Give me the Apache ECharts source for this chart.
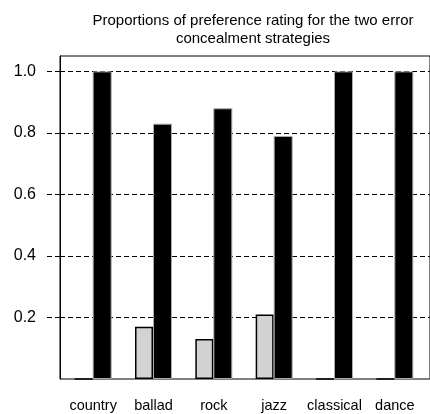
<!DOCTYPE html>
<html><head><meta charset="utf-8">
<script src="https://cdn.jsdelivr.net/npm/echarts@6/dist/echarts.min.js"></script>
<style>html,body{margin:0;padding:0;background:#fff}#c{width:430px;height:414px}</style>
</head><body><div id="c"></div>
<script>
const categories = ['country', 'ballad', 'rock', 'jazz', 'classical', 'dance'];
const strategyA = [0, 0.17, 0.13, 0.21, 0, 0];
const strategyB = [1.0, 0.83, 0.88, 0.79, 1.0, 1.0];
const yTicks = [0.2, 0.4, 0.6, 0.8, 1.0];
const titleText = 'Proportions of preference rating for the two error\nconcealment strategies';

const FONT = '"Liberation Sans", Arial, Helvetica, sans-serif';
const chart = echarts.init(document.getElementById('c'), null, {renderer: 'canvas'});
const dash = [5, 3];
chart.setOption({
  animation: false,
  backgroundColor: '#fff',
  title: {
    text: titleText, left: 248, top: 7, textAlign: 'center',
    textStyle: {fontFamily: FONT, fontSize: 15, fontWeight: 'normal', color: '#000', lineHeight: 18}
  },
  grid: [
    {left: 60, right: -2, top: 56, bottom: 35, show: true, borderColor: '#000', borderWidth: 1, backgroundColor: 'transparent'},
    {left: 63, right: 5, top: 56, bottom: 35}
  ],
  xAxis: [
    {gridIndex: 0, type: 'value', min: 0, max: 1, show: false},
    {gridIndex: 1, type: 'category', data: categories,
     axisLine: {show: false}, axisTick: {show: false},
     axisLabel: {fontFamily: FONT, fontSize: 14.5, color: '#000', margin: 19, interval: 0}}
  ],
  yAxis: [
    {gridIndex: 0, type: 'value', min: 0, max: 1.05, interval: 0.2,
     axisLine: {show: true, lineStyle: {color: '#000', width: 1}},
     axisTick: {show: true, length: 16, customValues: yTicks, lineStyle: {color: '#000', type: dash}},
     axisLabel: {customValues: yTicks, fontFamily: FONT, fontSize: 16, color: '#000', margin: 24,
       formatter: v => v.toFixed(1)},
     splitLine: {show: true, lineStyle: {color: '#000', type: dash, width: 1}}},
    {gridIndex: 1, type: 'value', min: 0, max: 1.05, show: false, splitLine: {show: false}}
  ],
  series: [
    {type: 'bar', xAxisIndex: 1, yAxisIndex: 1, data: strategyA, barWidth: 18, barGap: '0%',
     itemStyle: {color: '#d3d3d3', borderColor: '#000', borderWidth: 1.5}},
    {type: 'bar', xAxisIndex: 1, yAxisIndex: 1, data: strategyB, barWidth: 19, barGap: '0%',
     itemStyle: {color: '#000', borderColor: '#aaa', borderWidth: 1}}
  ]
});
</script></body></html>
